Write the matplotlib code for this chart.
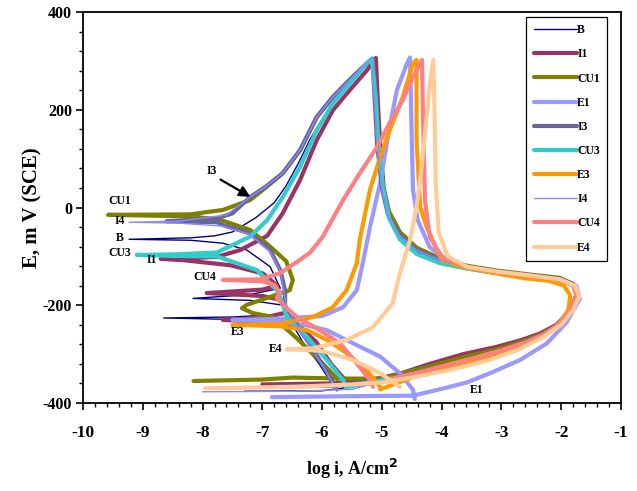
import matplotlib
matplotlib.use("Agg")
import matplotlib.pyplot as plt
from matplotlib.ticker import MultipleLocator

# cyclic polarisation curves, points read as (log i, E mV)
B = [(-7.3, -376), (-6.0, -375), (-5.2, -362), (-4.7, -347), (-4.2, -333), (-3.64, -316),
     (-3.08, -298), (-2.69, -281), (-2.36, -264), (-2.08, -243), (-1.86, -214), (-1.73, -178),
     (-1.8, -158), (-2.02, -147), (-2.53, -140), (-3.08, -132), (-3.58, -122), (-4.03, -108),
     (-4.42, -88), (-4.7, -55), (-4.87, -14), (-4.98, 40), (-5.06, 130), (-5.1, 220),
     (-5.15, 303), (-5.3, 285), (-5.6, 250), (-5.9, 200), (-6.2, 140), (-6.4, 90), (-6.6, 45),
     (-6.8, 10), (-7.1, -20), (-7.5, -50), (-7.8, -58), (-8.2, -62), (-9.23, -65), (-8.2, -67),
     (-7.66, -73), (-7.26, -87), (-6.87, -121), (-6.7, -165), (-7.2, -178), (-8.16, -186),
     (-7.2, -190), (-6.65, -200), (-6.6, -218), (-7.5, -224), (-8.65, -226), (-7.5, -229),
     (-6.5, -238), (-6.3, -280), (-6.05, -320), (-5.85, -358), (-5.75, -375)]

I1 = [(-7.0, -362), (-5.9, -360), (-5.3, -356), (-4.7, -340), (-4.2, -320), (-3.64, -300),
      (-3.08, -285), (-2.69, -272), (-2.36, -258), (-2.08, -240), (-1.86, -212), (-1.74, -178),
      (-1.8, -157), (-2.02, -146), (-2.53, -139), (-3.08, -131), (-3.58, -121), (-4.03, -106),
      (-4.42, -86), (-4.7, -54), (-4.88, -12), (-4.97, 40), (-5.03, 130), (-5.07, 220),
      (-5.1, 306), (-5.25, 281), (-5.54, 240), (-5.82, 199), (-6.09, 138), (-6.37, 56),
      (-6.66, -12), (-6.92, -58), (-7.37, -87), (-7.76, -101), (-8.3, -104), (-8.7, -105),
      (-8.3, -108), (-7.54, -118), (-6.99, -135), (-6.75, -160), (-7.0, -168), (-7.93, -175),
      (-7.0, -181), (-6.65, -190), (-6.6, -215), (-7.0, -226), (-7.66, -230), (-6.9, -234),
      (-6.4, -240), (-6.1, -275), (-5.85, -320), (-5.62, -352), (-5.5, -365)]

CU1 = [(-8.15, -355), (-7.0, -352), (-6.5, -348), (-5.6, -350), (-5.0, -350), (-4.7, -340),
       (-4.2, -325), (-3.64, -306), (-3.08, -290), (-2.69, -276), (-2.36, -261), (-2.08, -242),
       (-1.86, -214), (-1.74, -178), (-1.8, -157), (-2.02, -144), (-2.53, -137), (-3.08, -129),
       (-3.58, -119), (-4.03, -104), (-4.42, -82), (-4.7, -50), (-4.88, -8), (-4.98, 40),
       (-5.05, 130), (-5.1, 220), (-5.15, 303), (-5.25, 295), (-5.54, 261), (-5.82, 226),
       (-6.09, 185), (-6.37, 117), (-6.66, 70), (-6.95, 40), (-7.21, 15), (-7.66, -5),
       (-8.21, -14), (-9.58, -15), (-8.2, -18), (-7.71, -25), (-7.2, -46), (-6.87, -80),
       (-6.6, -110), (-6.49, -148), (-6.54, -169), (-6.87, -183), (-7.26, -199), (-7.34, -206),
       (-7.16, -216), (-6.82, -224), (-6.42, -268), (-6.0, -318), (-5.75, -350)]

E1 = [(-6.84, -388), (-5.5, -386), (-4.48, -385), (-4.0, -371), (-3.58, -358), (-3.19, -339),
      (-2.69, -312), (-2.24, -278), (-1.91, -235), (-1.69, -187), (-1.75, -160), (-2.0, -147),
      (-2.53, -139), (-3.08, -131), (-3.58, -122), (-3.9, -110), (-4.2, -81), (-4.4, -26),
      (-4.48, 36), (-4.5, 138), (-4.53, 307), (-4.58, 295), (-4.75, 240), (-4.87, 165),
      (-5.03, 50), (-5.2, -40), (-5.32, -114), (-5.42, -169), (-5.65, -204), (-6.0, -222),
      (-6.8, -228), (-7.5, -230), (-6.8, -233), (-6.3, -240), (-5.92, -251), (-5.48, -278),
      (-5.03, -305), (-4.7, -339), (-4.48, -373), (-4.45, -392)]

I3 = [(-6.8, -366), (-5.9, -365), (-5.3, -358), (-4.7, -346), (-4.2, -332), (-3.64, -316),
      (-3.08, -298), (-2.69, -281), (-2.36, -265), (-2.08, -244), (-1.86, -216), (-1.73, -178),
      (-1.8, -156), (-2.02, -146), (-2.53, -139), (-3.08, -131), (-3.58, -121), (-4.03, -107),
      (-4.42, -87), (-4.72, -55), (-4.9, -14), (-5.0, 40), (-5.08, 130), (-5.12, 220),
      (-5.16, 305), (-5.25, 295), (-5.54, 261), (-5.82, 226), (-6.09, 185), (-6.37, 117),
      (-6.66, 70), (-6.95, 42), (-7.21, 21), (-7.5, -12), (-7.76, -22), (-8.6, -28),
      (-7.76, -30), (-7.66, -36), (-7.21, -53), (-6.87, -87), (-6.7, -128), (-6.62, -170),
      (-6.62, -200), (-6.4, -245), (-6.15, -290), (-5.95, -330), (-5.8, -362), (-5.75, -372)]

CU3 = [(-5.6, -368), (-5.3, -360), (-4.95, -352), (-4.7, -347), (-4.2, -333), (-3.64, -317),
       (-3.08, -299), (-2.69, -282), (-2.36, -266), (-2.08, -245), (-1.86, -216), (-1.74, -178),
       (-1.8, -158), (-2.02, -148), (-2.53, -141), (-3.08, -134), (-3.58, -125), (-4.03, -114),
       (-4.42, -95), (-4.7, -65), (-4.88, -22), (-4.98, 40), (-5.06, 130), (-5.1, 220),
       (-5.17, 304), (-5.2, 302), (-5.54, 254), (-5.82, 213), (-6.09, 158), (-6.37, 83),
       (-6.66, 21), (-6.92, -26), (-7.21, -60), (-7.76, -92), (-8.5, -96), (-9.1, -97),
       (-8.5, -99), (-7.76, -100), (-7.09, -128), (-6.76, -169), (-6.7, -183), (-6.59, -224),
       (-6.25, -265), (-5.92, -312), (-5.65, -353), (-5.59, -367)]

E3 = [(-5.03, -372), (-4.8, -362), (-4.5, -348), (-4.0, -332), (-3.5, -315), (-3.0, -297),
      (-2.6, -278), (-2.3, -262), (-2.05, -240), (-1.88, -210), (-1.85, -180), (-1.95, -160),
      (-2.2, -150), (-2.6, -145), (-3.08, -135), (-3.58, -124), (-4.0, -108), (-4.25, -40),
      (-4.36, 1), (-4.42, 138), (-4.42, 302), (-4.48, 295), (-4.65, 226), (-4.87, 158),
      (-5.03, 103), (-5.2, 36), (-5.37, -66), (-5.42, -114), (-5.59, -169), (-5.82, -204),
      (-6.15, -224), (-6.7, -238), (-7.5, -240), (-6.7, -243), (-6.25, -251), (-5.92, -271),
      (-5.59, -298), (-5.25, -333), (-5.03, -367)]

I4 = [(-8.0, -377), (-6.5, -376), (-5.5, -372), (-5.0, -356), (-4.7, -347), (-4.2, -333),
      (-3.64, -316), (-3.08, -298), (-2.69, -281), (-2.36, -265), (-2.08, -244), (-1.86, -216),
      (-1.73, -178), (-1.8, -157), (-2.02, -146), (-2.53, -139), (-3.08, -131), (-3.58, -121),
      (-4.03, -107), (-4.42, -87), (-4.72, -55), (-4.9, -14), (-5.0, 40), (-5.08, 130),
      (-5.12, 220), (-5.16, 305), (-5.25, 295), (-5.54, 261), (-5.82, 226), (-6.09, 185),
      (-6.37, 117), (-6.66, 70), (-6.95, 42), (-7.21, 21), (-7.6, -15), (-8.4, -28),
      (-9.23, -30), (-8.4, -32), (-7.66, -38), (-7.21, -55), (-6.87, -90), (-6.7, -130),
      (-6.6, -200), (-6.4, -248), (-6.15, -292), (-5.95, -332), (-5.78, -370)]

CU4 = [(-4.9, -352), (-4.4, -338), (-3.9, -322), (-3.4, -306), (-3.0, -292), (-2.6, -276),
       (-2.3, -260), (-2.05, -240), (-1.86, -212), (-1.75, -180), (-1.8, -160), (-2.02, -148),
       (-2.53, -140), (-3.08, -132), (-3.58, -122), (-4.0, -100), (-4.2, -60), (-4.28, 15),
       (-4.31, 173), (-4.33, 302), (-4.42, 280), (-4.48, 267), (-4.65, 220), (-4.87, 173),
       (-5.08, 124), (-5.37, 70), (-5.65, 15), (-5.99, -60), (-6.2, -92), (-6.37, -107),
       (-6.7, -134), (-7.04, -147), (-7.66, -148), (-7.0, -151), (-6.8, -158), (-6.7, -175),
       (-6.76, -185), (-6.6, -205), (-6.42, -224), (-6.04, -251), (-5.7, -278), (-5.42, -319),
       (-5.2, -353), (-5.15, -367)]

E4 = [(-7.96, -370), (-6.5, -367), (-5.5, -362), (-5.0, -358), (-4.5, -348), (-4.0, -336),
      (-3.64, -326), (-3.2, -312), (-2.7, -290), (-2.3, -265), (-2.0, -240), (-1.8, -210),
      (-1.7, -182), (-1.77, -160), (-2.02, -147), (-2.53, -139), (-3.08, -131), (-3.58, -121),
      (-3.9, -100), (-4.05, -50), (-4.1, 50), (-4.12, 200), (-4.14, 302), (-4.2, 250),
      (-4.28, 150), (-4.36, 56), (-4.42, 1), (-4.53, -67), (-4.7, -135), (-4.82, -196),
      (-5.15, -245), (-5.59, -271), (-6.15, -288), (-6.59, -290), (-6.15, -292), (-5.99, -294),
      (-5.48, -312), (-5.03, -339), (-4.7, -367)]

series = [("B", B), ("I1", I1), ("CU1", CU1), ("E1", E1), ("I3", I3),
          ("CU3", CU3), ("E3", E3), ("I4", I4), ("CU4", CU4), ("E4", E4)]

# curve labels written on the plot
curve_labels = [("CU1", -9.38, 13), ("I4", -9.38, -28), ("B", -9.38, -62), ("CU3", -9.38, -93),
                ("I1", -8.85, -107), ("CU4", -7.96, -143), ("E3", -7.41, -255),
                ("E4", -6.77, -290), ("E1", -3.41, -374), ("I3", -7.84, 75)]
arrow_tail = (-7.74, 60)
arrow_head = (-7.16, 19)

colors = {"B": "#000080", "I1": "#993366", "CU1": "#808000", "E1": "#9999ff",
          "I3": "#666699", "CU3": "#33cccc", "E3": "#ff9900", "I4": "#8a8aff",
          "CU4": "#ff8080", "E4": "#ffcc99"}
thin = {"B", "I4"}

plt.rcParams['font.family'] = ['Liberation Serif', 'DejaVu Serif']
plt.rcParams['axes.unicode_minus'] = False

fig = plt.figure(figsize=(6.37, 4.91), dpi=100)
ax = fig.add_axes([0.1303, 0.1792, 0.8446, 0.7963])

for name, pts in series:
    xs = [p[0] for p in pts]
    ys = [p[1] for p in pts]
    lw = 1.0 if name in thin else 3.0
    ax.plot(xs, ys, color=colors[name], lw=lw, label=name,
            solid_joinstyle='round', solid_capstyle='round')

for txt, x, y in curve_labels:
    ax.text(x, y, txt, fontsize=8.5, fontweight='bold', ha='center', va='center')
ax.annotate('', xy=arrow_head, xytext=arrow_tail,
            arrowprops=dict(arrowstyle='-|>', color='black', lw=1.6, mutation_scale=16))

ax.set_xlim(-10, -1)
ax.set_ylim(-400, 400)
ax.xaxis.set_major_locator(MultipleLocator(1))
ax.xaxis.set_minor_locator(MultipleLocator(0.2))
ax.yaxis.set_major_locator(MultipleLocator(200))
ax.yaxis.set_minor_locator(MultipleLocator(40))
ax.tick_params(which='major', direction='out', length=5, width=1.2)
ax.tick_params(which='minor', direction='out', length=3, width=1)
ax.tick_params(axis='x', labelsize=12.5, pad=11)
ax.tick_params(axis='y', labelsize=11.5, pad=3)
for lab in ax.get_xticklabels() + ax.get_yticklabels():
    lab.set_fontweight('bold')
for sp in ax.spines.values():
    sp.set_linewidth(1.3)

ax.set_xlabel("log i, A/cm$^{\\mathbf{2}}$", fontsize=13, fontweight='bold', labelpad=11)
ax.set_ylabel("E, m V (SCE)", fontsize=15, fontweight='bold', labelpad=0)

leg = ax.legend(loc='upper right', bbox_to_anchor=(0.974, 0.987), borderaxespad=0,
                fancybox=False, edgecolor='black', handlelength=3.7,
                prop={'size': 8.5, 'weight': 'bold'},
                handletextpad=0.0, labelspacing=1.03, borderpad=0.6, framealpha=1)
leg.get_frame().set_linewidth(0.9)

fig.savefig("out.png", dpi=100)
